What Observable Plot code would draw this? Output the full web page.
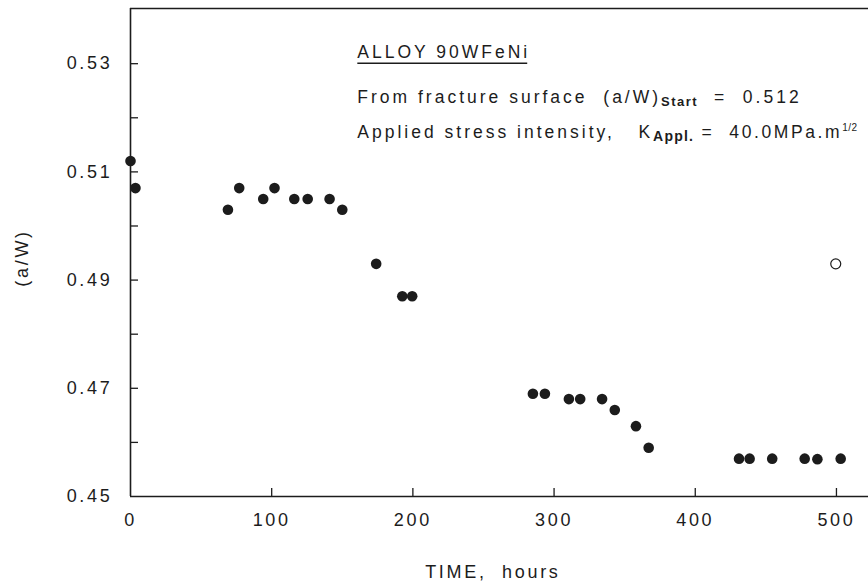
<!DOCTYPE html>
<html>
<head>
<meta charset="utf-8">
<script src="https://cdn.jsdelivr.net/npm/d3@7"></script>
<script src="https://cdn.jsdelivr.net/npm/@observablehq/plot@0.6"></script>
<style>
  body { margin: 0; background: #fff; }
  #chart svg text { letter-spacing: 2.7px; }
</style>
</head>
<body>
<div id="chart"></div>
<script>
// ---- data ----
const timeHours = [0, 3.5, 69, 77, 94, 102, 116, 125.5, 141, 150, 174, 192.5, 199.5,
  285, 293.5, 310.5, 318.5, 334, 343, 358, 367, 431, 438.5, 454.5, 477.5, 486.5, 503];
const aOverW = [0.512, 0.507, 0.503, 0.507, 0.505, 0.507, 0.505, 0.505, 0.505, 0.503, 0.493, 0.487, 0.487,
  0.469, 0.469, 0.468, 0.468, 0.468, 0.466, 0.463, 0.459, 0.457, 0.457, 0.457, 0.457, 0.4569, 0.457];
const openTime = [499.5];
const openAW = [0.493];

const xTickValues = [0, 100, 200, 300, 400, 500];
const xInnerTicks = [100, 200, 300, 400, 500];
const yLabelValues = [0.45, 0.47, 0.49, 0.51, 0.53];
const yInnerTicks = [0.46, 0.47, 0.48, 0.49, 0.50, 0.51, 0.52, 0.53];

const xTitle = "TIME,  hours";
const yTitle = "(a/W)";
const noteTitle = "ALLOY 90WFeNi";
const noteLine2 = ["From fracture surface  (a/W)", "Start", "  =  0.512"];
const noteLine3 = ["Applied stress intensity,   K", "Appl.", " =  40.0MPa.m", "1/2"];

// ---- build ----
const points = timeHours.map((t, i) => ({t, aw: aOverW[i]}));
const open = openTime.map((t, i) => ({t, aw: openAW[i]}));
const ink = "#1c1c1c";
const font = "'Liberation Sans', Arial, Helvetica, sans-serif";

const plot = Plot.plot({
  width: 868,
  height: 583,
  marginLeft: 130,
  marginRight: 0,
  marginTop: 8,
  marginBottom: 87,
  style: {fontFamily: font, fontSize: "18px", color: ink, background: "#fff", overflow: "visible"},
  x: {domain: [0, 522.7]},
  y: {domain: [0.45, 0.5402]},
  marks: [
    Plot.axisY(yInnerTicks, {tickSize: -8, tickFormat: () => "", strokeWidth: 1.3, label: null}),
    Plot.axisY(yLabelValues, {tickSize: 0, tickPadding: 18, tickFormat: d3.format(".2f"), label: null}),
    Plot.axisX(xInnerTicks, {tickSize: -8, tickFormat: () => "", strokeWidth: 1.3, label: null}),
    Plot.axisX(xTickValues, {tickSize: 0, tickPadding: 17, tickFormat: d3.format("d"), label: null}),
    Plot.ruleX([0], {stroke: ink, strokeWidth: 1.6}),
    Plot.ruleY([0.45], {stroke: ink, strokeWidth: 1.6}),
    Plot.ruleY([0.5402], {stroke: ink, strokeWidth: 1.6}),
    Plot.dot(points, {x: "t", y: "aw", r: 5.3, fill: ink, stroke: "none"}),
    Plot.dot(open, {x: "t", y: "aw", r: 5, fill: "#fff", stroke: ink, strokeWidth: 1.2})
  ]
});
document.getElementById("chart").append(plot);

// ---- annotations and titles ----
const sx = plot.scale("x"), sy = plot.scale("y");
const svg = d3.select(plot);
const g = svg.append("g")
  .attr("fill", ink)
  .attr("font-family", font)
  .attr("font-size", 17.5)
  .attr("text-anchor", "start")
  .style("white-space", "pre")
  .style("letter-spacing", "3px");

const x0 = sx.apply(161);

// title line with underline
const b1 = sy.apply(0.5309);
const t1 = g.append("text").attr("x", x0).attr("y", b1).style("letter-spacing", "3px").text(noteTitle);
const w1 = t1.node().getComputedTextLength();
g.append("line")
  .attr("x1", x0).attr("x2", x0 + w1 - 3)
  .attr("y1", b1 + 5).attr("y2", b1 + 5)
  .attr("stroke", ink).attr("stroke-width", 1.4);

// line 2
const l2 = g.append("text").attr("x", x0).attr("y", sy.apply(0.5226)).style("letter-spacing", "3px");
l2.append("tspan").text(noteLine2[0]);
l2.append("tspan").attr("dy", 3).attr("font-size", 13).attr("font-weight", "bold")
  .style("letter-spacing", "1.5px").text(noteLine2[1]);
l2.append("tspan").attr("dy", -3).text(noteLine2[2]);

// line 3
const l3 = g.append("text").attr("x", x0).attr("y", sy.apply(0.5162)).style("letter-spacing", "3px");
l3.append("tspan").text(noteLine3[0]);
l3.append("tspan").attr("dy", 3).attr("font-size", 14).attr("font-weight", "bold")
  .style("letter-spacing", "1.2px").text(noteLine3[1]);
l3.append("tspan").attr("dy", -3).style("letter-spacing", "2.6px").text(noteLine3[2]);
l3.append("tspan").attr("dy", -7).attr("font-size", 10).style("letter-spacing", "0.5px").text(noteLine3[3]);

// axis titles
g.append("text")
  .attr("x", sx.apply(257)).attr("y", 578)
  .attr("text-anchor", "middle")
  .attr("font-size", 18)
  .style("letter-spacing", "2.7px")
  .text(xTitle);
g.append("text")
  .attr("transform", `translate(22, ${sy.apply(0.494)}) rotate(-90)`)
  .attr("text-anchor", "middle")
  .attr("dy", "0.35em")
  .attr("font-size", 18)
  .style("letter-spacing", "2.7px")
  .text(yTitle);
</script>
</body>
</html>
